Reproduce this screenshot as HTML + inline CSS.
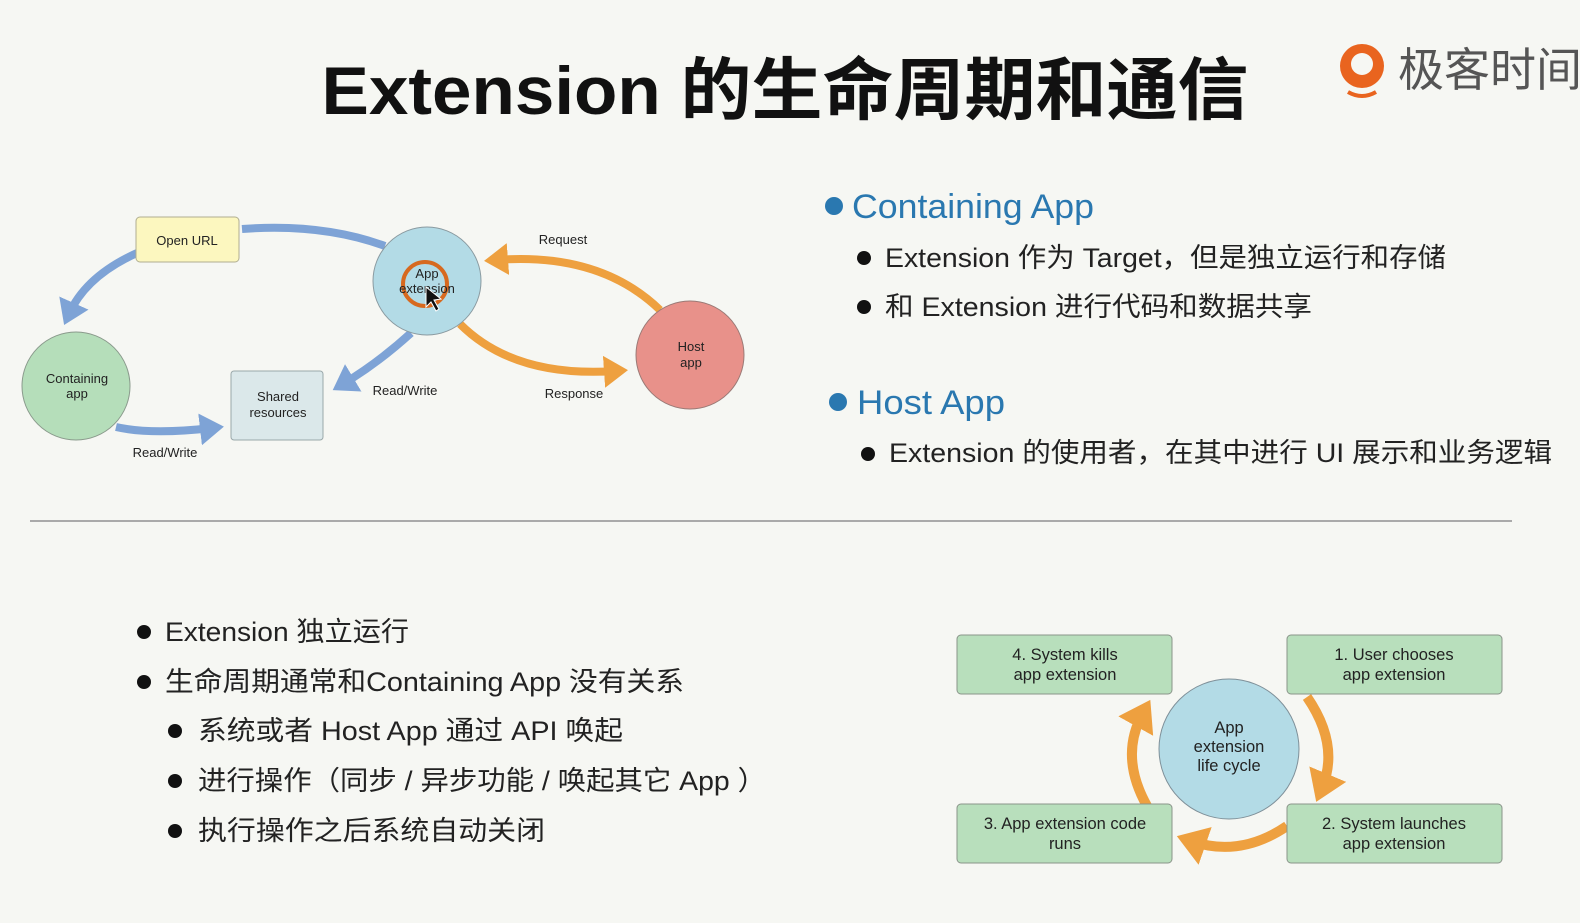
<!DOCTYPE html>
<html><head><meta charset="utf-8"><style>
html,body{margin:0;padding:0;background:#f6f7f3;}
svg{display:block;}
text{font-family:"Liberation Sans","Noto Sans CJK SC",sans-serif;}
</style></head><body>
<svg width="1580" height="923" viewBox="0 0 1580 923" xmlns="http://www.w3.org/2000/svg">
<rect width="1580" height="923" fill="#f6f7f3"/>
<defs>
<marker id="bl" markerWidth="4" markerHeight="4" refX="1.5" refY="2" orient="auto" markerUnits="strokeWidth"><path d="M0,0 L3,2 L0,4 z" fill="#7ea3d6"/></marker>
<marker id="or" markerWidth="4" markerHeight="4" refX="1.5" refY="2" orient="auto" markerUnits="strokeWidth"><path d="M0,0 L3,2 L0,4 z" fill="#eea03f"/></marker>
</defs>
<text x="785" y="114" font-size="68" font-weight="bold" text-anchor="middle" fill="#111" textLength="927" lengthAdjust="spacingAndGlyphs">Extension 的生命周期和通信</text>
<!-- logo -->
<circle cx="1362" cy="66" r="22" fill="#e9641f"/>
<circle cx="1362" cy="64" r="11" fill="#f6f7f3"/>
<path d="M1348 92 Q1362 100 1376 92" stroke="#e9641f" stroke-width="4" fill="none"/>
<text x="1398" y="86" font-size="46" fill="#555">极客时间</text>

<!-- diagram 1 arrows -->
<g fill="none" stroke-width="8" stroke-linecap="butt">
<path d="M385 246 Q322 223 242 229" stroke="#7ea3d6"/>
<path d="M137 253 Q86 276 69 314" stroke="#7ea3d6" marker-end="url(#bl)"/>
<path d="M411 333 Q378 363 343 384" stroke="#7ea3d6" marker-end="url(#bl)"/>
<path d="M116 427 Q151 435 212 428" stroke="#7ea3d6" marker-end="url(#bl)"/>
<path d="M660 310 Q600 252 496 260" stroke="#eea03f" marker-end="url(#or)"/>
<path d="M460 324 Q514 378 616 371" stroke="#eea03f" marker-end="url(#or)"/>
</g>
<rect x="136" y="217" width="103" height="45" rx="4" fill="#fcf7bf" stroke="#b0ae90"/>
<text x="187" y="245" font-size="13" text-anchor="middle" fill="#222">Open URL</text>
<circle cx="427" cy="281" r="54" fill="#b3dbe6" stroke="#8a9aa0"/>
<circle cx="425" cy="284" r="22" fill="none" stroke="#d7691f" stroke-width="4"/>
<text x="427" y="278" font-size="13" text-anchor="middle" fill="#222">App</text>
<text x="427" y="293" font-size="13" text-anchor="middle" fill="#222">extension</text>
<path d="M426 287 L426 307 L431 302 L436 311 L439 309 L434 300 L441 299 z" fill="#111" stroke="#fff" stroke-width="1"/>
<circle cx="690" cy="355" r="54" fill="#e8918a" stroke="#9a7a76"/>
<text x="691" y="351" font-size="13" text-anchor="middle" fill="#222">Host</text>
<text x="691" y="367" font-size="13" text-anchor="middle" fill="#222">app</text>
<circle cx="76" cy="386" r="54" fill="#b5deba" stroke="#8a9a8c"/>
<text x="77" y="383" font-size="13" text-anchor="middle" fill="#222">Containing</text>
<text x="77" y="398" font-size="13" text-anchor="middle" fill="#222">app</text>
<rect x="231" y="371" width="92" height="69" rx="3" fill="#dbe8ea" stroke="#9aa8aa"/>
<text x="278" y="401" font-size="13" text-anchor="middle" fill="#222">Shared</text>
<text x="278" y="417" font-size="13" text-anchor="middle" fill="#222">resources</text>
<text x="563" y="244" font-size="13" text-anchor="middle" fill="#222">Request</text>
<text x="574" y="398" font-size="13" text-anchor="middle" fill="#222">Response</text>
<text x="405" y="395" font-size="13" text-anchor="middle" fill="#222">Read/Write</text>
<text x="165" y="457" font-size="13" text-anchor="middle" fill="#222">Read/Write</text>

<!-- right text -->
<circle cx="834" cy="206" r="9" fill="#2a78b0"/>
<text x="852" y="218" font-size="34" fill="#2a78b0" textLength="242" lengthAdjust="spacingAndGlyphs">Containing App</text>
<circle cx="864" cy="258" r="7" fill="#111"/>
<text x="885" y="267" font-size="27" fill="#222" textLength="561" lengthAdjust="spacingAndGlyphs">Extension 作为 Target，但是独立运行和存储</text>
<circle cx="864" cy="307" r="7" fill="#111"/>
<text x="885" y="316" font-size="27" fill="#222" textLength="427" lengthAdjust="spacingAndGlyphs">和 Extension 进行代码和数据共享</text>
<circle cx="838" cy="402" r="9" fill="#2a78b0"/>
<text x="857" y="414" font-size="34" fill="#2a78b0" textLength="148" lengthAdjust="spacingAndGlyphs">Host App</text>
<circle cx="868" cy="454" r="7" fill="#111"/>
<text x="889" y="462" font-size="27" fill="#222" textLength="663" lengthAdjust="spacingAndGlyphs">Extension 的使用者，在其中进行 UI 展示和业务逻辑</text>

<line x1="30" y1="521" x2="1512" y2="521" stroke="#aaa" stroke-width="2"/>

<!-- bottom list -->
<g font-size="27" fill="#222">
<circle cx="144" cy="632" r="7" fill="#111"/><text x="165" y="641" textLength="244" lengthAdjust="spacingAndGlyphs">Extension 独立运行</text>
<circle cx="144" cy="682" r="7" fill="#111"/><text x="165" y="691" textLength="519" lengthAdjust="spacingAndGlyphs">生命周期通常和Containing App 没有关系</text>
<circle cx="175" cy="731" r="7" fill="#111"/><text x="198" y="740" textLength="425" lengthAdjust="spacingAndGlyphs">系统或者 Host App 通过 API 唤起</text>
<circle cx="175" cy="781" r="7" fill="#111"/><text x="198" y="790" textLength="568" lengthAdjust="spacingAndGlyphs">进行操作（同步 / 异步功能 / 唤起其它 App ）</text>
<circle cx="175" cy="831" r="7" fill="#111"/><text x="198" y="840" textLength="347" lengthAdjust="spacingAndGlyphs">执行操作之后系统自动关闭</text>
</g>

<!-- lifecycle -->
<g fill="none" stroke="#eea03f" stroke-width="10">
<path d="M1307 697 Q1340 745 1322 788" marker-end="url(#or)"/>
<path d="M1287 826 Q1240 858 1191 841" marker-end="url(#or)"/>
<path d="M1147 806 Q1119 756 1143 713" marker-end="url(#or)"/>
</g>
<circle cx="1229" cy="749" r="70" fill="#b3dbe6" stroke="#7f9099"/>
<text x="1229" y="733" font-size="16.5" text-anchor="middle" fill="#222">App</text>
<text x="1229" y="752" font-size="16.5" text-anchor="middle" fill="#222">extension</text>
<text x="1229" y="771" font-size="16.5" text-anchor="middle" fill="#222">life cycle</text>
<g fill="#b8dfbc" stroke="#8a948a">
<rect x="957" y="635" width="215" height="59" rx="4"/>
<rect x="1287" y="635" width="215" height="59" rx="4"/>
<rect x="957" y="804" width="215" height="59" rx="4"/>
<rect x="1287" y="804" width="215" height="59" rx="4"/>
</g>
<g font-size="16.5" text-anchor="middle" fill="#222">
<text x="1065" y="660">4. System kills</text><text x="1065" y="680">app extension</text>
<text x="1394" y="660">1. User chooses</text><text x="1394" y="680">app extension</text>
<text x="1065" y="829">3. App extension code</text><text x="1065" y="849">runs</text>
<text x="1394" y="829">2. System launches</text><text x="1394" y="849">app extension</text>
</g>
</svg>
</body></html>
